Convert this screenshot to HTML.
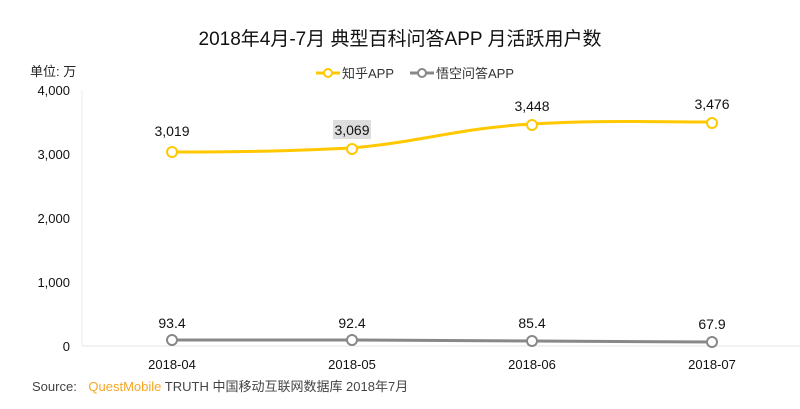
<!DOCTYPE html>
<html><head><meta charset="utf-8"><style>
body{margin:0;background:#fff;}
svg text{font-family:"Liberation Sans","Noto Sans CJK SC",sans-serif;}
</style></head><body>
<svg width="800" height="404" xmlns="http://www.w3.org/2000/svg">
<text x="400" y="45" text-anchor="middle" font-size="19" fill="#111">2018年4月-7月 典型百科问答APP 月活跃用户数</text>
<text x="30" y="76" font-size="13" fill="#222">单位: 万</text>
<line x1="316" y1="73" x2="340" y2="73" stroke="#FFC800" stroke-width="3"/>
<circle cx="328" cy="73" r="4" fill="#fff" stroke="#FFC800" stroke-width="2"/>
<text x="342" y="78" font-size="13" fill="#333">知乎APP</text>
<line x1="410" y1="73" x2="434" y2="73" stroke="#888" stroke-width="3"/>
<circle cx="422" cy="73" r="4" fill="#fff" stroke="#888" stroke-width="2"/>
<text x="436" y="78" font-size="13" fill="#333">悟空问答APP</text>
<g font-size="13" fill="#111" text-anchor="end">
<text x="70" y="95">4,000</text><text x="70" y="159">3,000</text><text x="70" y="223">2,000</text><text x="70" y="287">1,000</text><text x="70" y="351">0</text>
</g>
<line x1="82" y1="90" x2="82" y2="346" stroke="#eee"/>
<line x1="82" y1="346" x2="800" y2="346" stroke="#e6e6e6"/>
<path d="M172 152 C250 152,290 151,352 148 C420 142,460 128,532 124 C600 120,650 122,712 122" fill="none" stroke="#FFC800" stroke-width="3"/>
<g fill="#fff" stroke="#FFC800" stroke-width="2">
<circle cx="172" cy="152" r="5"/><circle cx="352" cy="149" r="5"/><circle cx="532" cy="125" r="5"/><circle cx="712" cy="123" r="5"/></g>
<rect x="333" y="120" width="38" height="19" fill="#ddd"/>
<g font-size="14" fill="#111" text-anchor="middle">
<text x="172" y="136">3,019</text><text x="352" y="135">3,069</text><text x="532" y="111">3,448</text><text x="712" y="109">3,476</text>
<text x="172" y="328">93.4</text><text x="352" y="328">92.4</text><text x="532" y="328">85.4</text><text x="712" y="329">67.9</text>
</g>
<path d="M172 340 L352 340 L532 341 L712 342" fill="none" stroke="#888" stroke-width="3"/>
<g fill="#fff" stroke="#888" stroke-width="2">
<circle cx="172" cy="340" r="5"/><circle cx="352" cy="340" r="5"/><circle cx="532" cy="341" r="5"/><circle cx="712" cy="342" r="5"/></g>
<g font-size="13" fill="#111" text-anchor="middle">
<text x="172" y="369">2018-04</text><text x="352" y="369">2018-05</text><text x="532" y="369">2018-06</text><text x="712" y="369">2018-07</text>
</g>
<text x="32" y="391" font-size="13" fill="#444">Source: <tspan fill="#F5A623" dx="8">QuestMobile</tspan> TRUTH 中国移动互联网数据库 2018年7月</text>
</svg>
</body></html>
